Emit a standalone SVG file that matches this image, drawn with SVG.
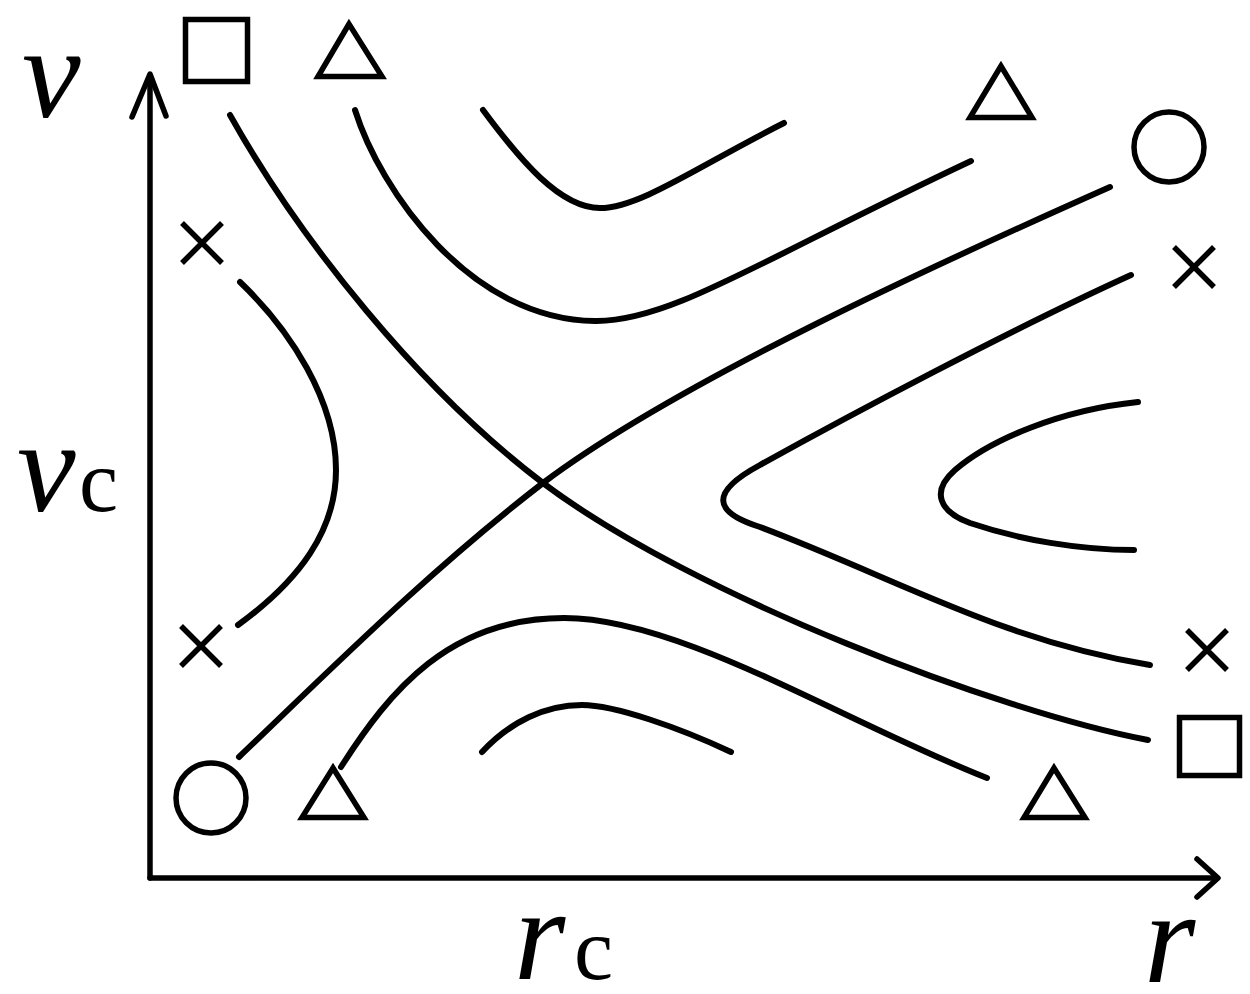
<svg xmlns="http://www.w3.org/2000/svg" width="1250" height="994" viewBox="0 0 1250 994">
<style>
.ln{fill:none;stroke:#000;stroke-width:6;stroke-linecap:round;stroke-linejoin:round}
.ax{fill:none;stroke:#000;stroke-width:5.5;stroke-linecap:round;stroke-linejoin:round}
.sym{fill:none;stroke:#000;stroke-width:5.5;stroke-linejoin:miter}
.xm{stroke:#000;stroke-width:5.5;stroke-linecap:butt}
.it{font-family:"Liberation Serif","Times New Roman",serif;font-style:italic;font-size:132px;fill:#000}
.sub{font-family:"Liberation Serif","Times New Roman",serif;font-size:88px;fill:#000}
</style>
<rect width="1250" height="994" fill="#fff"/>
<g id="axes">
<path class="ax" d="M150,878 V76"/>
<path class="ax" d="M132,117 L150,74 L166,116"/>
<path class="ax" d="M150,878 H1216"/>
<path class="ax" d="M1197,859 L1218,878 L1197,897"/>
</g>
<g id="labels">
<text class="it" x="22" y="117">v</text>
<text class="it" x="17" y="511">v</text><text class="sub" x="79" y="511">c</text>
<text class="it" x="514" y="979">r</text><text class="sub" x="574" y="979">c</text>
<text class="it" x="1144" y="982">r</text>
</g>
<g id="curves">
<path class="ln" d="M230,115 C300,240 420,390 543,483 C693,596 1000,712 1148,740"/>
<path class="ln" d="M239,757 C330,670 430,570 543,483 C680,380 950,258 1110,187"/>
<path class="ln" d="M355,110 C380,190 470,320 595,321 C670,322 760,260 971,161"/>
<path class="ln" d="M483,110 C520,160 560,208 600,208 C640,208 700,165 784,123"/>
<path class="ln" d="M240,282 C290,330 336,400 336,470 C336,530 300,580 238,625"/>
<path class="ln" d="M1131,275 C1010,330 850,415 760,465 C710,492 712,512 760,527 C900,580 1000,640 1150,665"/>
<path class="ln" d="M1138,402 C1060,410 990,440 955,470 C930,492 940,512 970,523 C1020,540 1080,550 1134,550"/>
<path class="ln" d="M341,767 C390,690 450,618 564,618 C680,618 840,720 987,778"/>
<path class="ln" d="M482,752 C510,722 545,705 582,705 C615,705 680,728 731,752"/>
</g>
<g id="squares">
<rect class="sym" x="185.5" y="19.5" width="62" height="62"/>
<rect class="sym" x="1179.5" y="717.5" width="60" height="58"/>
</g>
<g id="triangles">
<path class="sym" d="M349,24 L318,76.5 L382,76.5 Z"/>
<path class="sym" d="M1001,66 L970,117.5 L1032,117.5 Z"/>
<path class="sym" d="M333,768 L302,817.5 L364,817.5 Z"/>
<path class="sym" d="M1054,768 L1024,817.5 L1085,817.5 Z"/>
</g>
<g id="circles">
<circle class="sym" cx="1169" cy="147" r="35"/>
<circle class="sym" cx="211" cy="798" r="35"/>
</g>
<g id="crosses">
<path class="xm" d="M182,223 L222,263 M222,223 L182,263"/>
<path class="xm" d="M181,626 L221,666 M221,626 L181,666"/>
<path class="xm" d="M1174,247 L1214,287 M1214,247 L1174,287"/>
<path class="xm" d="M1187,630 L1227,670 M1227,630 L1187,670"/>
</g>
</svg>
